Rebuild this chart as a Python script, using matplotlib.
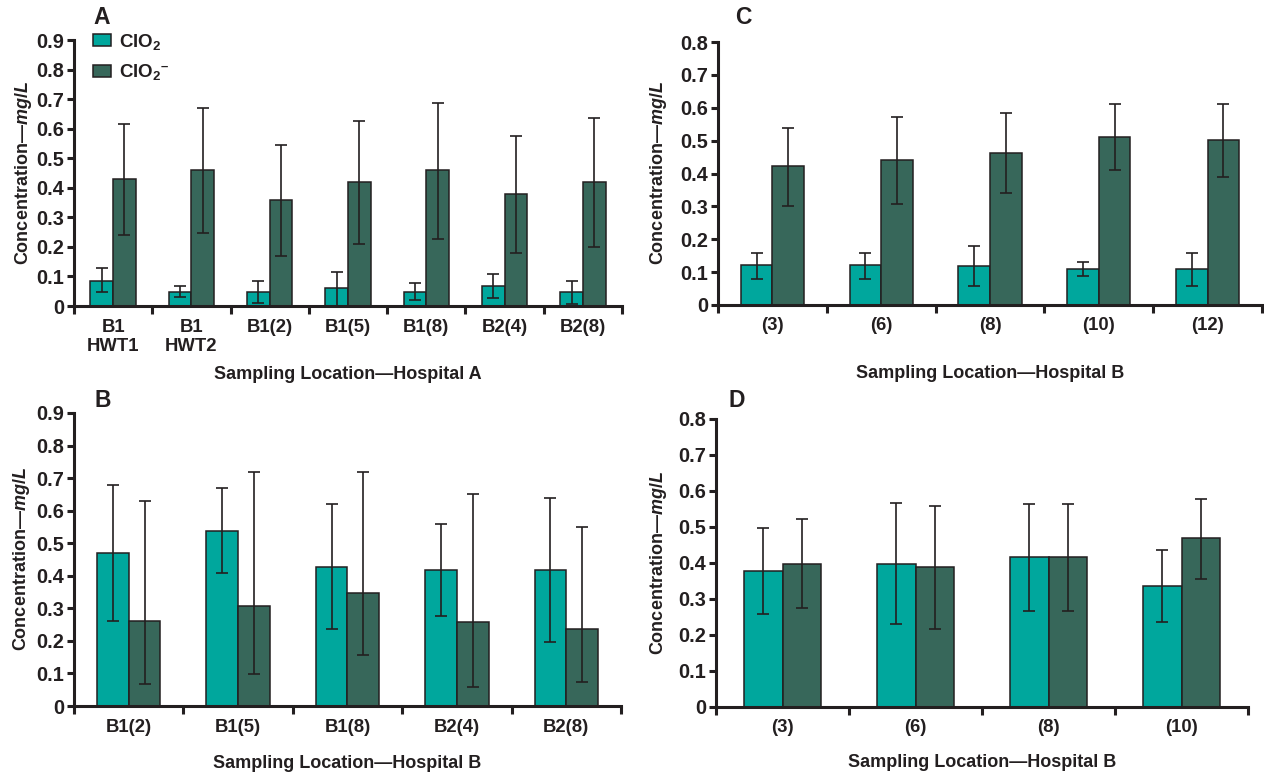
import matplotlib
matplotlib.use('Agg')
import matplotlib.pyplot as plt
import matplotlib.transforms as mtransforms
from matplotlib.patches import Patch
import numpy as np

plt.rcParams['font.family'] = 'Liberation Sans'
plt.rcParams['font.weight'] = 'bold'
plt.rcParams['axes.labelweight'] = 'bold'
plt.rcParams['mathtext.fontset'] = 'custom'
plt.rcParams['mathtext.rm'] = 'Liberation Sans:bold'
plt.rcParams['mathtext.it'] = 'Liberation Sans:bold:italic'
plt.rcParams['mathtext.bf'] = 'Liberation Sans:bold'

TEAL = '#00a79d'
DARK = '#37675a'
INK = '#231f20'

# panel A - hospital A
a_labels = ['B1\nHWT1', 'B1\nHWT2', 'B1(2)', 'B1(5)', 'B1(8)', 'B2(4)', 'B2(8)']
a_clo2 = [0.085, 0.047, 0.047, 0.061, 0.047, 0.068, 0.047]
a_clo2_lo = [0.047, 0.03, 0.01, 0.0, 0.02, 0.028, 0.007]
a_clo2_hi = [0.13, 0.068, 0.085, 0.115, 0.078, 0.108, 0.085]
a_clo2m = [0.43, 0.46, 0.358, 0.418, 0.46, 0.378, 0.418]
a_clo2m_lo = [0.24, 0.247, 0.169, 0.21, 0.226, 0.178, 0.2]
a_clo2m_hi = [0.615, 0.67, 0.545, 0.625, 0.686, 0.575, 0.635]

# panel B - hospital B
b_labels = ['B1(2)', 'B1(5)', 'B1(8)', 'B2(4)', 'B2(8)']
b_clo2 = [0.47, 0.538, 0.428, 0.419, 0.419]
b_clo2_lo = [0.26, 0.408, 0.237, 0.276, 0.197]
b_clo2_hi = [0.678, 0.67, 0.619, 0.559, 0.638]
b_clo2m = [0.26, 0.308, 0.346, 0.259, 0.236]
b_clo2m_lo = [0.068, 0.098, 0.158, 0.058, 0.075]
b_clo2m_hi = [0.63, 0.72, 0.72, 0.65, 0.55]

# panel C - hospital B
c_labels = ['(3)', '(6)', '(8)', '(10)', '(12)']
c_clo2 = [0.121, 0.121, 0.118, 0.109, 0.109]
c_clo2_lo = [0.079, 0.079, 0.058, 0.088, 0.058]
c_clo2_hi = [0.158, 0.158, 0.18, 0.131, 0.158]
c_clo2m = [0.423, 0.442, 0.462, 0.511, 0.502]
c_clo2m_lo = [0.30, 0.308, 0.34, 0.41, 0.39]
c_clo2m_hi = [0.538, 0.571, 0.583, 0.611, 0.611]

# panel D - hospital B
d_labels = ['(3)', '(6)', '(8)', '(10)']
d_clo2 = [0.377, 0.398, 0.418, 0.337]
d_clo2_lo = [0.257, 0.231, 0.267, 0.236]
d_clo2_hi = [0.498, 0.567, 0.565, 0.437]
d_clo2m = [0.398, 0.388, 0.418, 0.469]
d_clo2m_lo = [0.276, 0.218, 0.267, 0.356]
d_clo2m_hi = [0.521, 0.559, 0.565, 0.577]

W, H = 1264, 774


def panel(ax, labels, v1, lo1, hi1, v2, lo2, hi2, ymax, xlabel, xlab_top, ylab_x, width=0.29):
    x = np.arange(len(labels))
    for vals, lo, hi, col, off in [(v1, lo1, hi1, TEAL, -width / 2), (v2, lo2, hi2, DARK, width / 2)]:
        vals = np.array(vals)
        err = [vals - np.array(lo), np.array(hi) - vals]
        ax.bar(x + off, vals, width, color=col, edgecolor=INK, linewidth=1.1, zorder=2)
        ax.errorbar(x + off, vals, yerr=err, fmt='none', ecolor=INK, elinewidth=1.2,
                    capsize=4.5, capthick=1.2, zorder=3)
    ax.set_xlim(-0.5, len(labels) - 0.5)
    ax.set_ylim(0, ymax)
    ticks = np.arange(0, ymax + 0.001, 0.1)
    ax.set_yticks(ticks)
    ax.set_yticklabels(['0'] + ['%.1f' % t for t in ticks[1:]])
    ax.set_xticks(x)
    ax.set_xticklabels(labels)
    ax.set_xticks(np.arange(-0.5, len(labels)), minor=True)
    ax.tick_params(axis='x', which='major', length=0, pad=9, labelsize=13.3)
    ax.tick_params(axis='x', which='minor', length=6, width=2.2, color=INK, direction='out')
    ax.tick_params(axis='y', length=5, width=2.2, color=INK, labelsize=14.3, pad=2)
    for s in ['top', 'right']:
        ax.spines[s].set_visible(False)
    for s in ['left', 'bottom']:
        ax.spines[s].set_linewidth(2.2)
        ax.spines[s].set_color(INK)
    ax.set_xlabel(xlabel, fontsize=13, color=INK)
    ax.set_ylabel(r'Concentration—$\mathit{mg/L}$', fontsize=13, color=INK)
    ax.xaxis.set_label_coords(0.5, 1 - xlab_top / H,
                              transform=mtransforms.blended_transform_factory(ax.transAxes, fig.transFigure))
    ax.yaxis.set_label_coords(ylab_x / W, 0.5,
                              transform=mtransforms.blended_transform_factory(fig.transFigure, ax.transAxes))
    for t in ax.get_xticklabels() + ax.get_yticklabels():
        t.set_color(INK)


fig = plt.figure(figsize=(12.64, 7.74), dpi=100)
axA = fig.add_axes([74 / W, 1 - 306 / H, 548 / W, 266 / H])
axC = fig.add_axes([718 / W, 1 - 305 / H, 544 / W, 263 / H])
axB = fig.add_axes([74 / W, 1 - 706 / H, 547 / W, 293 / H])
axD = fig.add_axes([716 / W, 1 - 707 / H, 532 / W, 288 / H])

panel(axA, a_labels, a_clo2, a_clo2_lo, a_clo2_hi, a_clo2m, a_clo2m_lo, a_clo2m_hi, 0.9,
      'Sampling Location—Hospital A', 366, 34)
panel(axB, b_labels, b_clo2, b_clo2_lo, b_clo2_hi, b_clo2m, b_clo2m_lo, b_clo2m_hi, 0.9,
      'Sampling Location—Hospital B', 755, 32)
panel(axC, c_labels, c_clo2, c_clo2_lo, c_clo2_hi, c_clo2m, c_clo2m_lo, c_clo2m_hi, 0.8,
      'Sampling Location—Hospital B', 365, 669)
panel(axD, d_labels, d_clo2, d_clo2_lo, d_clo2_hi, d_clo2m, d_clo2m_lo, d_clo2m_hi, 0.8,
      'Sampling Location—Hospital B', 754, 669)

# legend in panel A
handles = [Patch(facecolor=TEAL, edgecolor=INK, linewidth=1.1),
           Patch(facecolor=DARK, edgecolor=INK, linewidth=1.1)]
axA.legend(handles, [r'ClO$_\mathregular{2}$', r'ClO$_\mathregular{2}{}^{\mathregular{–}}$'],
           loc='upper left', bbox_to_anchor=(93 / W, 1 - 32 / H), bbox_transform=fig.transFigure,
           frameon=False, fontsize=13.5, borderpad=0, borderaxespad=0,
           handlelength=0.95, handleheight=0.62, handletextpad=0.45, labelspacing=0.55,
           labelcolor=INK)

for letter, (x, y) in zip('ACBD', [(93, 24), (735, 24), (95, 407), (729, 407)]):
    fig.text(x / W, 1 - y / H, letter, fontsize=16.5, fontweight='bold', color=INK, va='baseline')

fig.savefig('out.png', dpi=100)
